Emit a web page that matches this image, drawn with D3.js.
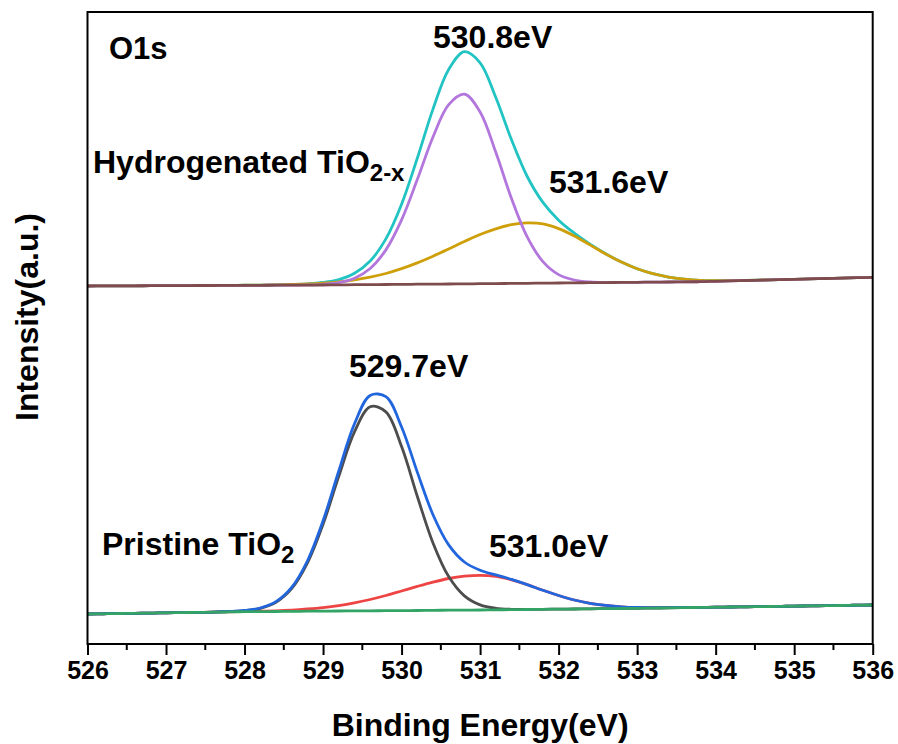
<!DOCTYPE html>
<html>
<head>
<meta charset="utf-8">
<script src="https://cdn.jsdelivr.net/npm/d3@7"></script>
<style>
  html, body { margin: 0; padding: 0; background: #fff; }
  svg { display: block; }
  text { font-family: "Liberation Sans", Arial, Helvetica, sans-serif; font-weight: bold; fill: #000; }
</style>
</head>
<body>
<svg id="chart" width="898" height="744"></svg>
<script>
// Binding energy grid (eV)
const energy = [526.0,526.2,526.4,526.6,526.8,527.0,527.2,527.4,527.6,527.8,528.0,528.2,528.4,528.6,528.8,529.0,529.2,529.4,529.6,529.8,530.0,530.2,530.4,530.6,530.8,531.0,531.2,531.4,531.6,531.8,532.0,532.2,532.4,532.6,532.8,533.0,533.2,533.4,533.6,533.8,534.0,534.2,534.4,534.6,534.8,535.0,535.2,535.4,535.6,535.8,536.0];

// Hydrogenated TiO2-x (offset upward)
const hydroBackground = [358.0,358.1,358.1,358.2,358.3,358.3,358.4,358.5,358.5,358.6,358.7,358.7,358.8,358.9,358.9,359.0,359.1,359.3,359.4,359.5,359.6,359.8,359.9,360.0,360.1,360.3,360.4,360.6,360.7,360.9,361.0,361.2,361.3,361.4,361.6,361.7,361.9,362.0,362.2,362.3,362.7,363.1,363.5,363.9,364.3,364.7,365.1,365.5,365.9,366.3,366.7];
const hydroLattice = [358.0,358.1,358.1,358.2,358.3,358.3,358.4,358.5,358.5,358.6,358.7,358.7,358.8,358.9,359.1,359.7,361.4,365.8,375.5,394.1,424.1,464.4,507.0,539.4,549.9,532.0,491.7,445.5,407.1,382.4,369.4,364.0,362.1,361.6,361.6,361.7,361.9,362.0,362.2,362.3,362.7,363.1,363.5,363.9,364.3,364.7,365.1,365.5,365.9,366.3,366.7];
const hydroDefect = [358.0,358.1,358.1,358.2,358.3,358.3,358.4,358.5,358.5,358.6,358.8,358.9,359.1,359.5,360.0,360.8,362.1,364.2,366.9,370.5,375.3,381.1,387.8,395.1,402.5,409.5,415.2,419.3,421.1,420.1,415.4,408.1,399.1,390.0,381.9,375.2,370.3,366.9,364.9,363.7,363.4,363.4,363.6,364.0,364.3,364.7,365.1,365.5,365.9,366.3,366.7];
const hydroEnvelope = [358.0,358.1,358.1,358.2,358.3,358.3,358.4,358.5,358.5,358.6,358.8,358.9,359.1,359.5,360.1,361.5,364.4,370.7,383.0,405.1,439.8,485.7,534.9,574.5,592.3,581.2,546.5,504.2,467.5,441.6,423.8,410.9,399.9,390.2,381.9,375.2,370.3,366.9,364.9,363.7,363.4,363.4,363.6,364.0,364.3,364.7,365.1,365.5,365.9,366.3,366.7];

// Pristine TiO2
const pristineBackground = [30.0,30.2,30.5,30.7,30.9,31.2,31.4,31.6,31.8,32.1,32.3,32.4,32.5,32.6,32.8,32.9,33.0,33.1,33.2,33.3,33.4,33.5,33.7,33.8,33.9,34.0,34.2,34.3,34.5,34.7,34.9,35.0,35.2,35.4,35.5,35.7,35.9,36.1,36.4,36.6,36.8,37.0,37.2,37.4,37.6,37.9,38.1,38.3,38.5,38.8,39.0];
const pristineLattice = [30.0,30.2,30.5,30.7,30.9,31.2,31.4,31.6,31.8,32.4,33.3,35.6,41.7,55.3,80.8,119.7,167.6,212.1,237.3,232.1,197.4,147.8,101.1,67.4,48.1,39.1,35.7,34.7,34.6,34.7,34.9,35.0,35.2,35.4,35.5,35.7,35.9,36.1,36.4,36.6,36.8,37.0,37.2,37.4,37.6,37.9,38.1,38.3,38.5,38.8,39.0];
const pristineDefect = [30.0,30.2,30.5,30.7,30.9,31.2,31.4,31.6,31.9,32.2,32.5,32.8,33.2,33.9,35.0,36.4,38.4,41.1,44.5,48.5,53.0,57.6,61.9,65.5,67.8,68.7,67.6,64.2,59.3,53.7,48.5,44.0,40.7,38.6,37.2,36.5,36.3,36.3,36.5,36.6,36.8,37.0,37.2,37.4,37.6,37.9,38.1,38.3,38.5,38.8,39.0];
const pristineEnvelope = [30.0,30.2,30.5,30.7,30.9,31.2,31.4,31.6,31.9,32.5,33.5,36.0,42.4,56.6,83.0,123.2,173.0,220.1,248.6,247.3,217.0,171.9,129.3,99.1,82.0,73.8,69.1,64.6,59.4,53.7,48.5,44.0,40.7,38.6,37.2,36.5,36.3,36.3,36.5,36.6,36.8,37.0,37.2,37.4,37.6,37.9,38.1,38.3,38.5,38.8,39.0];

// Axis ticks
const majorTicks = [526,527,528,529,530,531,532,533,534,535,536];
const minorTicks = [526.5,527.5,528.5,529.5,530.5,531.5,532.5,533.5,534.5,535.5];

// Peak position labels
const peakLabels = ["530.8eV", "531.6eV", "529.7eV", "531.0eV"];

const svg = d3.select("#chart");
const plot = { left: 87.5, right: 872.7, top: 12, bottom: 644 };

const x = d3.scaleLinear().domain([526, 536]).range([plot.left, plot.right]);
const y = d3.scaleLinear().domain([0, 632]).range([plot.bottom, plot.top]);

const line = d3.line()
  .x((d, i) => x(energy[i]))
  .y(d => y(d))
  .curve(d3.curveCatmullRom.alpha(0.5));

const series = [
  { values: hydroEnvelope, color: "#22c3c3" },
  { values: hydroDefect, color: "#cf9f0a" },
  { values: hydroLattice, color: "#b276dc" },
  { values: hydroBackground, color: "#7e4c4c" },
  { values: pristineDefect, color: "#ee4444" },
  { values: pristineLattice, color: "#4d4d4d" },
  { values: pristineEnvelope, color: "#2266dd" },
  { values: pristineBackground, color: "#33a466" }
];

const g = svg.append("g");
g.append("defs").append("clipPath").attr("id", "plotClip")
  .append("rect")
  .attr("x", plot.left).attr("y", plot.top)
  .attr("width", plot.right - plot.left).attr("height", plot.bottom - plot.top);

const curves = g.append("g").attr("clip-path", "url(#plotClip)");
series.forEach(s => {
  curves.append("path")
    .datum(s.values)
    .attr("d", line)
    .attr("fill", "none")
    .attr("stroke", s.color)
    .attr("stroke-width", 2.8)
    .attr("stroke-linejoin", "round");
});

// Frame
g.append("rect")
  .attr("x", plot.left).attr("y", plot.top)
  .attr("width", plot.right - plot.left).attr("height", plot.bottom - plot.top)
  .attr("fill", "none").attr("stroke", "#000").attr("stroke-width", 2);

// Bottom axis
const xAxis = d3.axisBottom(x)
  .tickValues(majorTicks)
  .tickFormat(d3.format("d"))
  .tickSize(11)
  .tickSizeOuter(0)
  .tickPadding(6);
const axG = g.append("g").attr("transform", `translate(0,${plot.bottom})`).call(xAxis);
axG.select(".domain").remove();
axG.selectAll(".tick line").attr("stroke", "#000").attr("stroke-width", 2);
axG.selectAll(".tick text")
  .attr("font-size", 25)
  .attr("font-family", "Liberation Sans, Arial, sans-serif")
  .attr("font-weight", "bold")
  .attr("fill", "#000");

g.append("g").selectAll("line").data(minorTicks).join("line")
  .attr("x1", d => x(d)).attr("x2", d => x(d))
  .attr("y1", plot.bottom).attr("y2", plot.bottom + 6)
  .attr("stroke", "#000").attr("stroke-width", 2);

// Axis titles
g.append("text")
  .attr("x", (plot.left + plot.right) / 2)
  .attr("y", 736)
  .attr("text-anchor", "middle")
  .attr("font-size", 32)
  .text("Binding Energy(eV)");

g.append("text")
  .attr("transform", "translate(38,317) rotate(-90)")
  .attr("text-anchor", "middle")
  .attr("font-size", 32)
  .text("Intensity(a.u.)");

// Panel annotations
g.append("text").attr("x", 109).attr("y", 59).attr("font-size", 31).text("O1s");

const hyd = g.append("text").attr("x", 93).attr("y", 173).attr("font-size", 32);
hyd.append("tspan").text("Hydrogenated TiO");
hyd.append("tspan").attr("font-size", 24).attr("dy", 8).text("2-x");

const pri = g.append("text").attr("x", 102).attr("y", 555).attr("font-size", 32);
pri.append("tspan").text("Pristine TiO");
pri.append("tspan").attr("font-size", 24).attr("dy", 8).text("2");

const labelPos = [[433, 48], [549, 193], [349, 377], [489, 557]];
peakLabels.forEach((t, i) => {
  g.append("text")
    .attr("x", labelPos[i][0]).attr("y", labelPos[i][1])
    .attr("font-size", 32)
    .text(t);
});
</script>
</body>
</html>
